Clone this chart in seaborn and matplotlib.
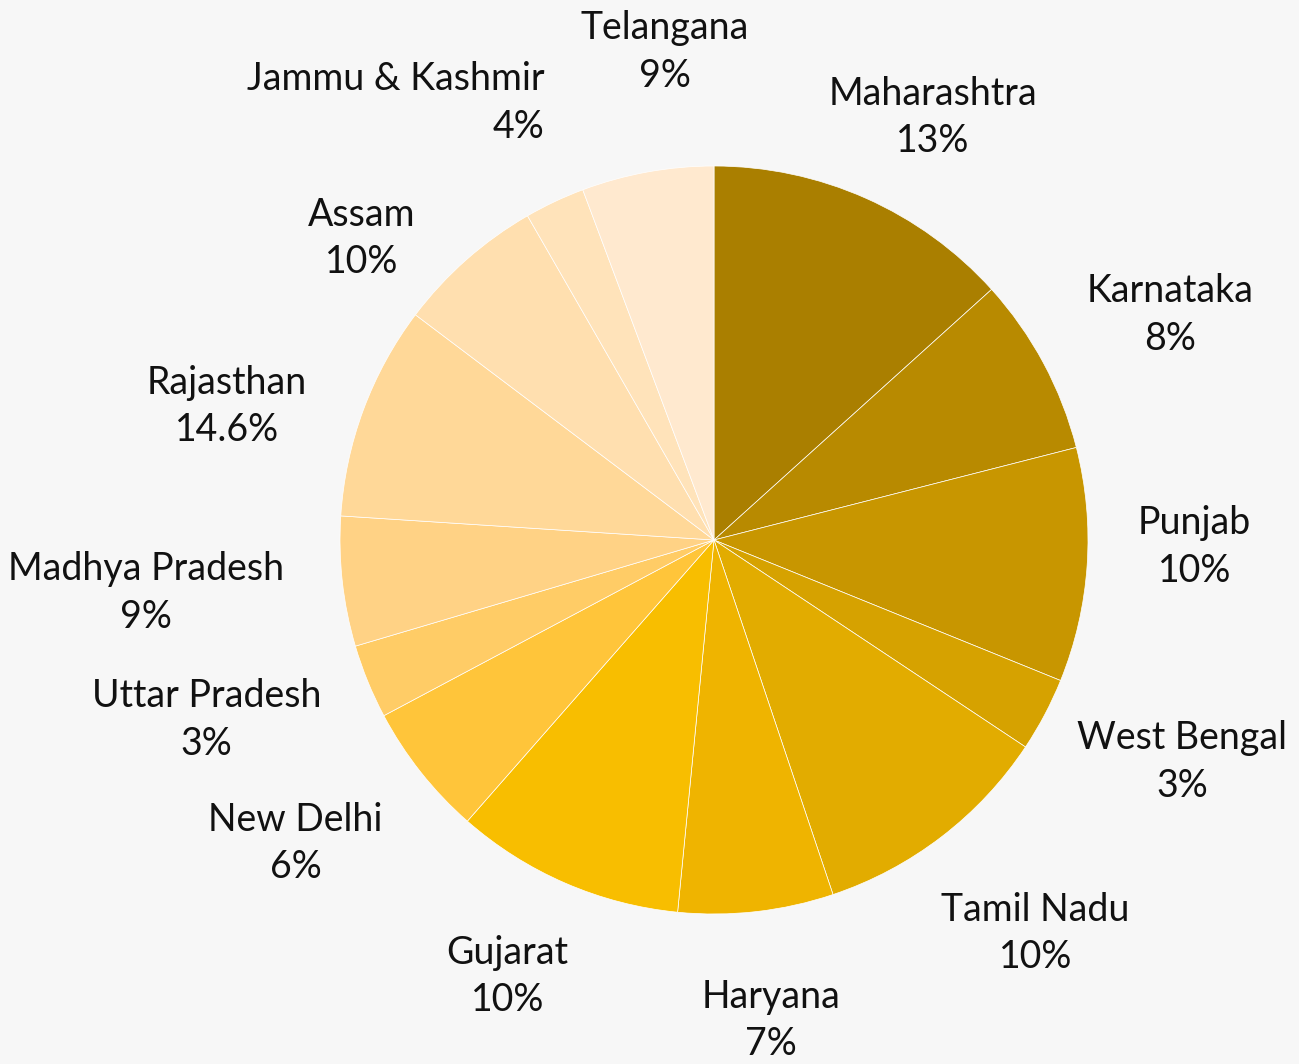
import numpy as np
import matplotlib.pyplot as plt
import seaborn as sns

sns.set_theme(style="white")
plt.rcParams["font.family"] = ["Lato", "DejaVu Sans"]

# states, clockwise from 12 o'clock
states = ["Maharashtra", "Karnataka", "Punjab", "West Bengal", "Tamil Nadu",
          "Haryana", "Gujarat", "New Delhi", "Uttar Pradesh", "Madhya Pradesh",
          "Rajasthan", "Assam", "Jammu & Kashmir", "Telangana"]
# slice sizes as drawn
shares = [13.3, 7.7, 10.1, 3.2, 10.5, 6.7, 9.9, 5.75, 3.2, 5.6, 9.25, 6.4, 2.6, 5.7]
# percentages as printed on the labels
pct_labels = ["13%", "8%", "10%", "3%", "10%", "7%", "10%", "6%", "3%", "9%",
              "14.6%", "10%", "4%", "9%"]
colors = ["#AA7F00", "#B88A00", "#C89600", "#D6A200", "#E2AC00", "#EFB400",
          "#F8BE00", "#FFC53A", "#FFCC66", "#FFD285", "#FFD898", "#FFDFAF",
          "#FFE3BA", "#FFE9CF"]

# label nudges in pixels (right, down) to avoid collisions, like the original
nudges = [(0, 12), (0, 0), (-9, -25), (-8, 0), (0, 16), (0, 8), (-10, 0),
          (-10, 8), (0, 0), (0, 0), (-5, 32), (-30, 55), (-70, -7), (43, -20)]
label_ma = ["center"] * 12 + ["right", "center"]

W, H = 1299, 1064
cx, cy, R = 714, 540, 374

fig = plt.figure(figsize=(W / 100, H / 100), dpi=100)
fig.patch.set_facecolor("#F7F7F7")
ax = fig.add_axes([0, 0, 1, 1])
ax.set_facecolor("#F7F7F7")

wedges, _ = ax.pie(shares, colors=colors, startangle=90, counterclock=False,
                   wedgeprops=dict(edgecolor="white", linewidth=0.5))
ax.set_xlim(-cx / R, (W - cx) / R)
ax.set_ylim(-(H - cy) / R, cy / R)
ax.set_aspect("equal")
ax.axis("off")

texts = []
d0 = 1.16
for w, name, pct, ma in zip(wedges, states, pct_labels, label_ma):
    th = np.deg2rad((w.theta1 + w.theta2) / 2)
    t = ax.text(d0 * np.cos(th), d0 * np.sin(th), f"{name}\n{pct}",
                ha="center", va="center", ma=ma, fontsize=27,
                color="#111111", linespacing=1.4)
    texts.append((t, th))

fig.canvas.draw()
inv = ax.transData.inverted()
for (t, th), (nx, ny) in zip(texts, nudges):
    bb = t.get_window_extent()
    (x0, y0), (x1, y1) = inv.transform([[bb.x0, bb.y0], [bb.x1, bb.y1]])
    bw, bh = x1 - x0, y1 - y0
    x, y = t.get_position()
    t.set_position((x + np.cos(th) * bw / 2 + nx / R,
                    y + np.sin(th) * bh / 2 - ny / R))

fig.savefig("out.png", dpi=100, facecolor=fig.get_facecolor())
